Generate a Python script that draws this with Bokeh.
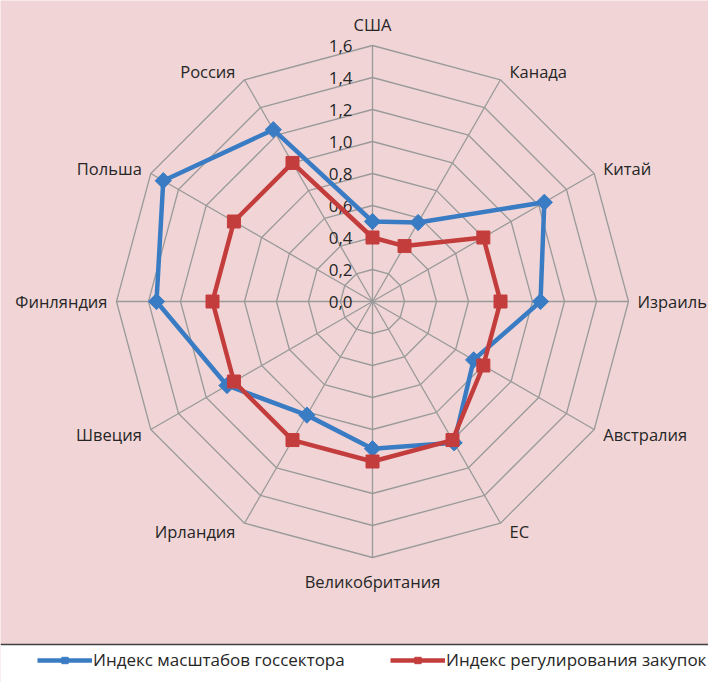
import numpy as np
from bokeh.plotting import figure
from bokeh.models import ColumnDataSource, Legend, LegendItem, Range1d, BoxAnnotation, Span
from bokeh.embed import file_html
from bokeh.resources import INLINE
from bokeh.core.properties import value

# ---- data ----
categories = ["США", "Канада", "Китай", "Израиль", "Австралия", "ЕС",
              "Великобритания", "Ирландия", "Швеция", "Финляндия", "Польша", "Россия"]
public_sector_index = [0.50, 0.57, 1.24, 1.05, 0.73, 1.02, 0.92, 0.82, 1.05, 1.35, 1.51, 1.24]
procurement_index = [0.40, 0.40, 0.80, 0.80, 0.80, 1.00, 1.00, 1.00, 1.00, 1.00, 1.00, 1.00]
tick_values = [0.0, 0.2, 0.4, 0.6, 0.8, 1.0, 1.2, 1.4, 1.6]
tick_labels = ["0,0", "0,2", "0,4", "0,6", "0,8", "1,0", "1,2", "1,4", "1,6"]
series_names = ["Индекс масштабов госсектора", "Индекс регулирования закупок"]

BLUE = "#3A7CC4"
RED = "#C43D3D"
PINK = "#F1D5D6"
GRID = "#9A9A9A"
TEXT = "#262626"
FONT = "Open Sans"

n = len(categories)
theta = np.arange(n) * 2 * np.pi / n
rmax = tick_values[-1]

W, H = 708, 682
scale = 160.0
cx, cy = 372.0, 301.0
p = figure(width=W, height=H, output_backend="svg", toolbar_location=None,
           x_range=Range1d(-cx / scale, (W - cx) / scale),
           y_range=Range1d(-(H - cy) / scale, cy / scale),
           min_border=0)
p.axis.visible = False
p.xgrid.visible = False
p.ygrid.visible = False
p.outline_line_color = None
p.background_fill_color = PINK
p.border_fill_color = "white"

sep_y = -(644 - cy) / scale
p.add_layout(BoxAnnotation(top=sep_y, fill_color="white", fill_alpha=1.0, line_alpha=0))
p.add_layout(Span(location=sep_y, dimension="width", line_color="#404040", line_width=1.5))

# grid rings
ring_xs, ring_ys = [], []
for t in tick_values[1:]:
    ring_xs.append(list(t * np.sin(theta)) + [t * np.sin(theta[0])])
    ring_ys.append(list(t * np.cos(theta)) + [t * np.cos(theta[0])])
p.multi_line(ring_xs, ring_ys, line_color=GRID, line_width=1.3)
# spokes
p.multi_line([[0, rmax * np.sin(a)] for a in theta], [[0, rmax * np.cos(a)] for a in theta],
             line_color=GRID, line_width=1.3)

# tick labels
p.text(x=[0] * len(tick_values), y=tick_values, text=tick_labels,
       x_offset=-20, text_align="right", text_baseline="middle",
       text_font=value(FONT), text_font_size="17px", text_color=TEXT)

# category labels
lx = rmax * np.sin(theta)
ly = rmax * np.cos(theta)
aligns, baselines, xo, yo = [], [], [], []
for a in theta:
    s, c = np.sin(a), np.cos(a)
    if abs(s) < 1e-6:
        aligns.append("center")
        if c > 0:
            baselines.append("bottom"); yo.append(-10)
        else:
            baselines.append("top"); yo.append(12)
        xo.append(0)
    else:
        aligns.append("left" if s > 0 else "right")
        baselines.append("middle")
        xo.append(9 if s > 0 else -9)
        yo.append(-10 * c)
lab_src = ColumnDataSource(dict(x=lx, y=ly, text=categories, align=aligns, base=baselines, xo=xo, yo=yo))
p.text(x="x", y="y", text="text", source=lab_src, text_align="align", text_baseline="base",
       x_offset="xo", y_offset="yo", text_font=value(FONT), text_font_size="16.5px", text_color=TEXT)

# series
def closed(vals):
    v = list(vals) + [vals[0]]
    th = list(theta) + [theta[0]]
    return [r * np.sin(a) for r, a in zip(v, th)], [r * np.cos(a) for r, a in zip(v, th)]

bx, by = closed(public_sector_index)
rx, ry = closed(procurement_index)
l1 = p.line(bx, by, line_color=BLUE, line_width=4.5)
m1 = p.scatter(bx[:-1], by[:-1], marker="square", angle=np.pi / 4, size=11.5,
               fill_color=BLUE, line_color=BLUE)
l2 = p.line(rx, ry, line_color=RED, line_width=4.5)
m2 = p.scatter(rx[:-1], ry[:-1], marker="square", size=13, fill_color=RED, line_color=RED)

common = dict(glyph_width=55, glyph_height=16, label_height=16, label_standoff=1,
              padding=0, margin=0, border_line_alpha=0, background_fill_alpha=0,
              label_text_font=FONT, label_text_font_size="17px", label_text_color=TEXT)
leg1 = Legend(items=[LegendItem(label=series_names[0], renderers=[l1, m1])], location=(37, 11), **common)
leg2 = Legend(items=[LegendItem(label=series_names[1], renderers=[l2, m2])], location=(390, 11), **common)
p.add_layout(leg1)
p.add_layout(leg2)

open("out.html", "w").write(file_html(p, INLINE))
